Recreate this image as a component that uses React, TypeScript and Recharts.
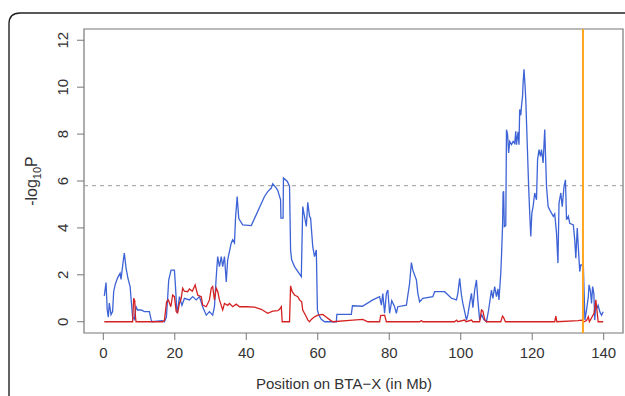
import React from "react";
import { LineChart, Line, XAxis, YAxis, ReferenceLine, ReferenceArea } from "recharts";

const xTicks = [0, 20, 40, 60, 80, 100, 120, 140];
const yTicks = [0, 2, 4, 6, 8, 10, 12];
const threshold = 5.8;
const markerPos = 134.2;

const blueTrace: [number, number][] = [
  [0.28, 1.1], [0.76, 1.67], [1.1, 0.5], [1.4, 0.2], [1.68, 0.8], [2.16, 0.3], [2.6, 0.43], [2.9, 1.28],
  [3.36, 1.6], [4.0, 1.87], [4.7, 2.07], [4.96, 1.8], [5.5, 2.5], [5.88, 2.93], [6.36, 2.3], [6.9, 1.85],
  [7.5, 1.5], [7.76, 1.0], [8.2, 0.2], [8.68, 0.1], [9.16, 0.64], [9.6, 0.5], [10.56, 0.5], [11.5, 0.43],
  [12.9, 0.43], [13.36, 0.1], [13.64, 0.0], [16.5, 0.05], [17.1, 0.0], [17.65, 0.2], [18.0, 1.0],
  [18.3, 1.78], [18.96, 2.2], [19.9, 2.2], [20.2, 1.5], [20.5, 0.64], [20.7, 0.37], [21.3, 1.07],
  [22.0, 0.7], [22.7, 1.0], [24.1, 0.93], [25.0, 1.07], [26.0, 0.93], [26.9, 1.07], [27.8, 0.64],
  [28.8, 0.28], [29.7, 0.43], [30.6, 0.28], [31.1, 0.64], [31.6, 1.92], [32.0, 2.78], [32.5, 2.35],
  [33.0, 2.78], [33.4, 2.35], [33.9, 2.78], [34.4, 1.7], [34.8, 2.64], [35.8, 3.36], [36.2, 3.5],
  [36.7, 3.36], [37.0, 4.43], [37.45, 5.34], [37.9, 4.4], [39.0, 4.13], [41.4, 4.1], [45.1, 5.34],
  [46.0, 5.55], [47.0, 5.7], [47.4, 5.88], [48.4, 5.7], [48.8, 5.6], [49.6, 5.2], [49.7, 4.42],
  [50.3, 4.42], [50.4, 6.13], [51.5, 5.98], [52.1, 5.77], [52.4, 3.06], [52.7, 2.64], [53.5, 2.35],
  [55.4, 1.92], [55.8, 4.91], [56.8, 4.06], [57.2, 5.09], [57.7, 4.49], [58.0, 4.42], [58.6, 3.2],
  [59.1, 2.78], [59.6, 3.06], [59.9, 0.5], [60.3, 0.28], [61.0, 0.1], [61.9, 0.0], [65.2, 0.0],
  [65.35, 0.31], [69.4, 0.31], [69.7, 0.68], [72.5, 0.66], [75.4, 0.93], [77.3, 1.07], [77.8, 0.71],
  [78.2, 1.2], [78.7, 0.36], [79.2, 1.21], [79.6, 1.35], [80.1, 0.36], [80.7, 0.9], [81.5, 0.64],
  [82.0, 0.36], [82.4, 0.64], [84.8, 0.71], [85.7, 1.64], [86.2, 2.52], [86.6, 2.2], [87.6, 1.78],
  [88.0, 1.21], [88.5, 0.85], [89.4, 1.0], [92.2, 1.07], [92.7, 1.28], [95.5, 1.28], [97.4, 1.0],
  [98.8, 0.93], [99.2, 1.21], [99.7, 1.85], [100.2, 1.14], [100.6, 0.78], [101.1, 0.43], [101.6, 0.07],
  [102.0, 0.3], [102.5, 0.78], [103.0, 1.21], [103.4, 0.6], [103.9, 1.35], [104.4, 1.78], [104.8, 0.9],
  [105.3, 0.07], [105.9, 0.3], [106.4, 0.1], [107.2, 0.0], [107.8, 0.5], [108.6, 1.35], [109.0, 1.0],
  [109.5, 1.5], [110.0, 1.07], [110.4, 1.4], [110.7, 0.93], [111.2, 2.07], [111.4, 2.78], [111.7, 4.06],
  [111.85, 5.49], [112.0, 5.56], [112.2, 4.06], [112.6, 4.1], [112.8, 8.19], [113.1, 8.0], [113.4, 7.2],
  [113.7, 7.69], [114.2, 7.55], [114.65, 7.69], [115.1, 7.6], [115.4, 8.12], [115.6, 7.55], [116.05, 8.1],
  [116.3, 7.55], [116.5, 9.05], [116.8, 8.8], [117.0, 9.19], [117.3, 9.62], [117.45, 10.19],
  [117.7, 10.76], [118.0, 10.05], [118.2, 9.47], [118.6, 7.62], [119.0, 5.77], [119.3, 4.63],
  [119.6, 3.63], [119.9, 4.63], [120.25, 4.91], [120.7, 5.49], [121.2, 5.2], [121.5, 6.91], [121.9, 7.34],
  [122.3, 7.05], [122.6, 7.34], [123.05, 6.77], [123.5, 8.19], [124.0, 5.77], [124.45, 4.91],
  [124.9, 4.77], [125.9, 4.49], [126.3, 4.6], [126.8, 3.78], [127.2, 2.5], [127.5, 5.06], [128.0, 5.49],
  [128.4, 4.91], [128.9, 5.77], [129.3, 6.05], [129.6, 4.35], [130.1, 4.5], [130.5, 4.2], [131.5, 4.13],
  [131.9, 3.49], [132.2, 2.71], [132.6, 3.99], [133.05, 2.78], [133.3, 2.14], [133.6, 2.42],
  [134.3, 2.42], [134.75, 0.07], [135.2, 0.5], [135.7, 1.07], [135.9, 1.57], [136.3, 1.3], [136.6, 0.78],
  [136.9, 1.5], [137.25, 1.2], [137.5, 0.07], [137.8, 0.78], [138.2, 0.6], [138.45, 0.7], [138.9, 0.43],
  [139.4, 0.28], [139.85, 0.43],
];

const redTrace: [number, number][] = [
  [0.28, 0.0], [8.2, 0.0], [8.5, 1.0], [8.8, 0.9], [9.0, 0.2], [9.16, 0.0], [16.6, 0.0], [17.1, 0.05],
  [17.7, 0.85], [18.2, 0.93], [18.9, 0.64], [19.4, 1.14], [19.9, 1.07], [20.4, 0.43], [20.8, 0.38],
  [21.3, 0.78], [21.8, 1.0], [22.2, 1.43], [22.7, 1.3], [23.6, 1.28], [24.1, 1.4], [24.9, 1.3],
  [25.7, 1.57], [26.4, 1.14], [27.4, 1.07], [27.8, 0.71], [28.8, 0.64], [29.7, 0.93], [30.2, 1.43],
  [30.6, 1.5], [31.1, 0.93], [31.6, 1.43], [32.0, 1.3], [32.5, 0.93], [33.4, 0.5], [33.9, 0.78],
  [34.8, 0.7], [35.3, 0.78], [36.2, 0.64], [37.2, 0.75], [38.1, 0.64], [40.0, 0.64], [42.3, 0.62],
  [44.2, 0.53], [46.0, 0.36], [47.4, 0.45], [48.8, 0.47], [49.3, 0.53], [49.8, 0.64], [50.05, 0.0],
  [52.1, 0.0], [52.4, 1.53], [52.85, 1.28], [53.5, 1.14], [54.4, 1.07], [54.9, 0.93], [55.5, 0.85],
  [55.8, 0.5], [56.8, 0.21], [57.2, 0.08], [57.7, 0.0], [58.2, 0.1], [59.1, 0.21], [60.0, 0.28],
  [61.4, 0.31], [62.35, 0.2], [63.3, 0.09], [64.2, 0.0], [69.8, 0.07], [72.6, 0.1], [74.0, 0.0],
  [77.3, 0.0], [77.6, 0.26], [78.7, 0.28], [79.2, 0.0], [88.5, 0.0], [89.0, 0.05], [89.4, 0.0],
  [98.3, 0.0], [98.8, 0.07], [99.2, 0.0], [101.1, 0.07], [101.5, 0.0], [103.0, 0.07], [103.4, 0.0],
  [105.3, 0.0], [105.8, 0.5], [106.2, 0.45], [106.7, 0.1], [107.2, 0.0], [111.2, 0.0], [111.7, 0.24],
  [112.0, 0.18], [112.5, 0.0], [126.3, 0.0], [126.6, 0.24], [126.9, 0.0], [132.85, 0.05], [133.8, 0.07],
  [134.5, 0.0], [135.2, 0.05], [135.7, 0.21], [136.0, 0.0], [137.3, 0.36], [137.8, 0.93], [138.1, 0.5],
  [138.45, 0.0], [139.85, 0.0],
];

const blueData = blueTrace.map(([pos, p]) => ({ pos, p }));
const redData = redTrace.map(([pos, p]) => ({ pos, p }));

const FONT = "'Liberation Sans', Arial, sans-serif";
const TEXT = "#333";
const AXIS = "#777";

const YTick = (props: any) => {
  const { y, payload } = props;
  const x = 68;
  return (
    <text x={x} y={y} transform={`rotate(-90, ${x}, ${y})`} textAnchor="middle" fontSize={15} fill={TEXT} fontFamily={FONT}>
      {payload.value}
    </text>
  );
};

const XTick = (props: any) => {
  const { x, payload } = props;
  return (
    <text x={x} y={358} textAnchor="middle" fontSize={15} fill={TEXT} fontFamily={FONT}>
      {payload.value}
    </text>
  );
};

export default function App() {
  return (
    <div style={{ position: "absolute", left: 0, top: 0, width: 625, height: 396, background: "#fff", overflow: "hidden" }}>
      <svg width={625} height={396} style={{ position: "absolute", left: 0, top: 0 }}>
        <path d="M 9 396 L 9 24 Q 9 13 20 13 L 640 13" fill="none" stroke="#222" strokeWidth={1.4} />
      </svg>
      <div style={{ position: "absolute", left: 0, top: 0 }}>
        <LineChart width={625} height={396} margin={{ top: 29, right: 2, bottom: 0, left: 0 }}>
          <XAxis
            type="number"
            dataKey="pos"
            domain={[-5.4, 145.4]}
            ticks={xTicks}
            allowDataOverflow
            height={63}
            axisLine={false}
            tickLine={{ stroke: AXIS }}
            tickSize={7}
            tick={<XTick />}
          />
          <YAxis
            type="number"
            dataKey="p"
            domain={[-0.48, 12.48]}
            ticks={yTicks}
            allowDataOverflow
            width={84}
            axisLine={false}
            tickLine={{ stroke: AXIS }}
            tickSize={7}
            tick={<YTick />}
          />
          <ReferenceArea x1={-5.4} x2={145.4} y1={-0.48} y2={12.48} fill="none" stroke={AXIS} strokeWidth={1.2} ifOverflow="visible" />
          <ReferenceLine y={threshold} stroke="#999" strokeDasharray="4 4" strokeWidth={1} />
          <Line data={blueData} dataKey="p" type="linear" stroke="#3d63d6" strokeWidth={1.3} dot={false} isAnimationActive={false} />
          <Line data={redData} dataKey="p" type="linear" stroke="#d42222" strokeWidth={1.3} dot={false} isAnimationActive={false} />
          <ReferenceLine x={markerPos} stroke="#ffa51f" strokeWidth={2} />
        </LineChart>
      </div>
      <svg width={625} height={396} style={{ position: "absolute", left: 0, top: 0, pointerEvents: "none" }}>
        <text x={344} y={389} textAnchor="middle" fontSize={15} fill={TEXT} fontFamily={FONT}>
          Position on BTA−X (in Mb)
        </text>
        <text x={37} y={181} transform="rotate(-90, 37, 181)" textAnchor="middle" fontSize={16} fill={TEXT} fontFamily={FONT}>
          -log<tspan fontSize={11} dy={4}>10</tspan><tspan dy={-4}>P</tspan>
        </text>
      </svg>
    </div>
  );
}
